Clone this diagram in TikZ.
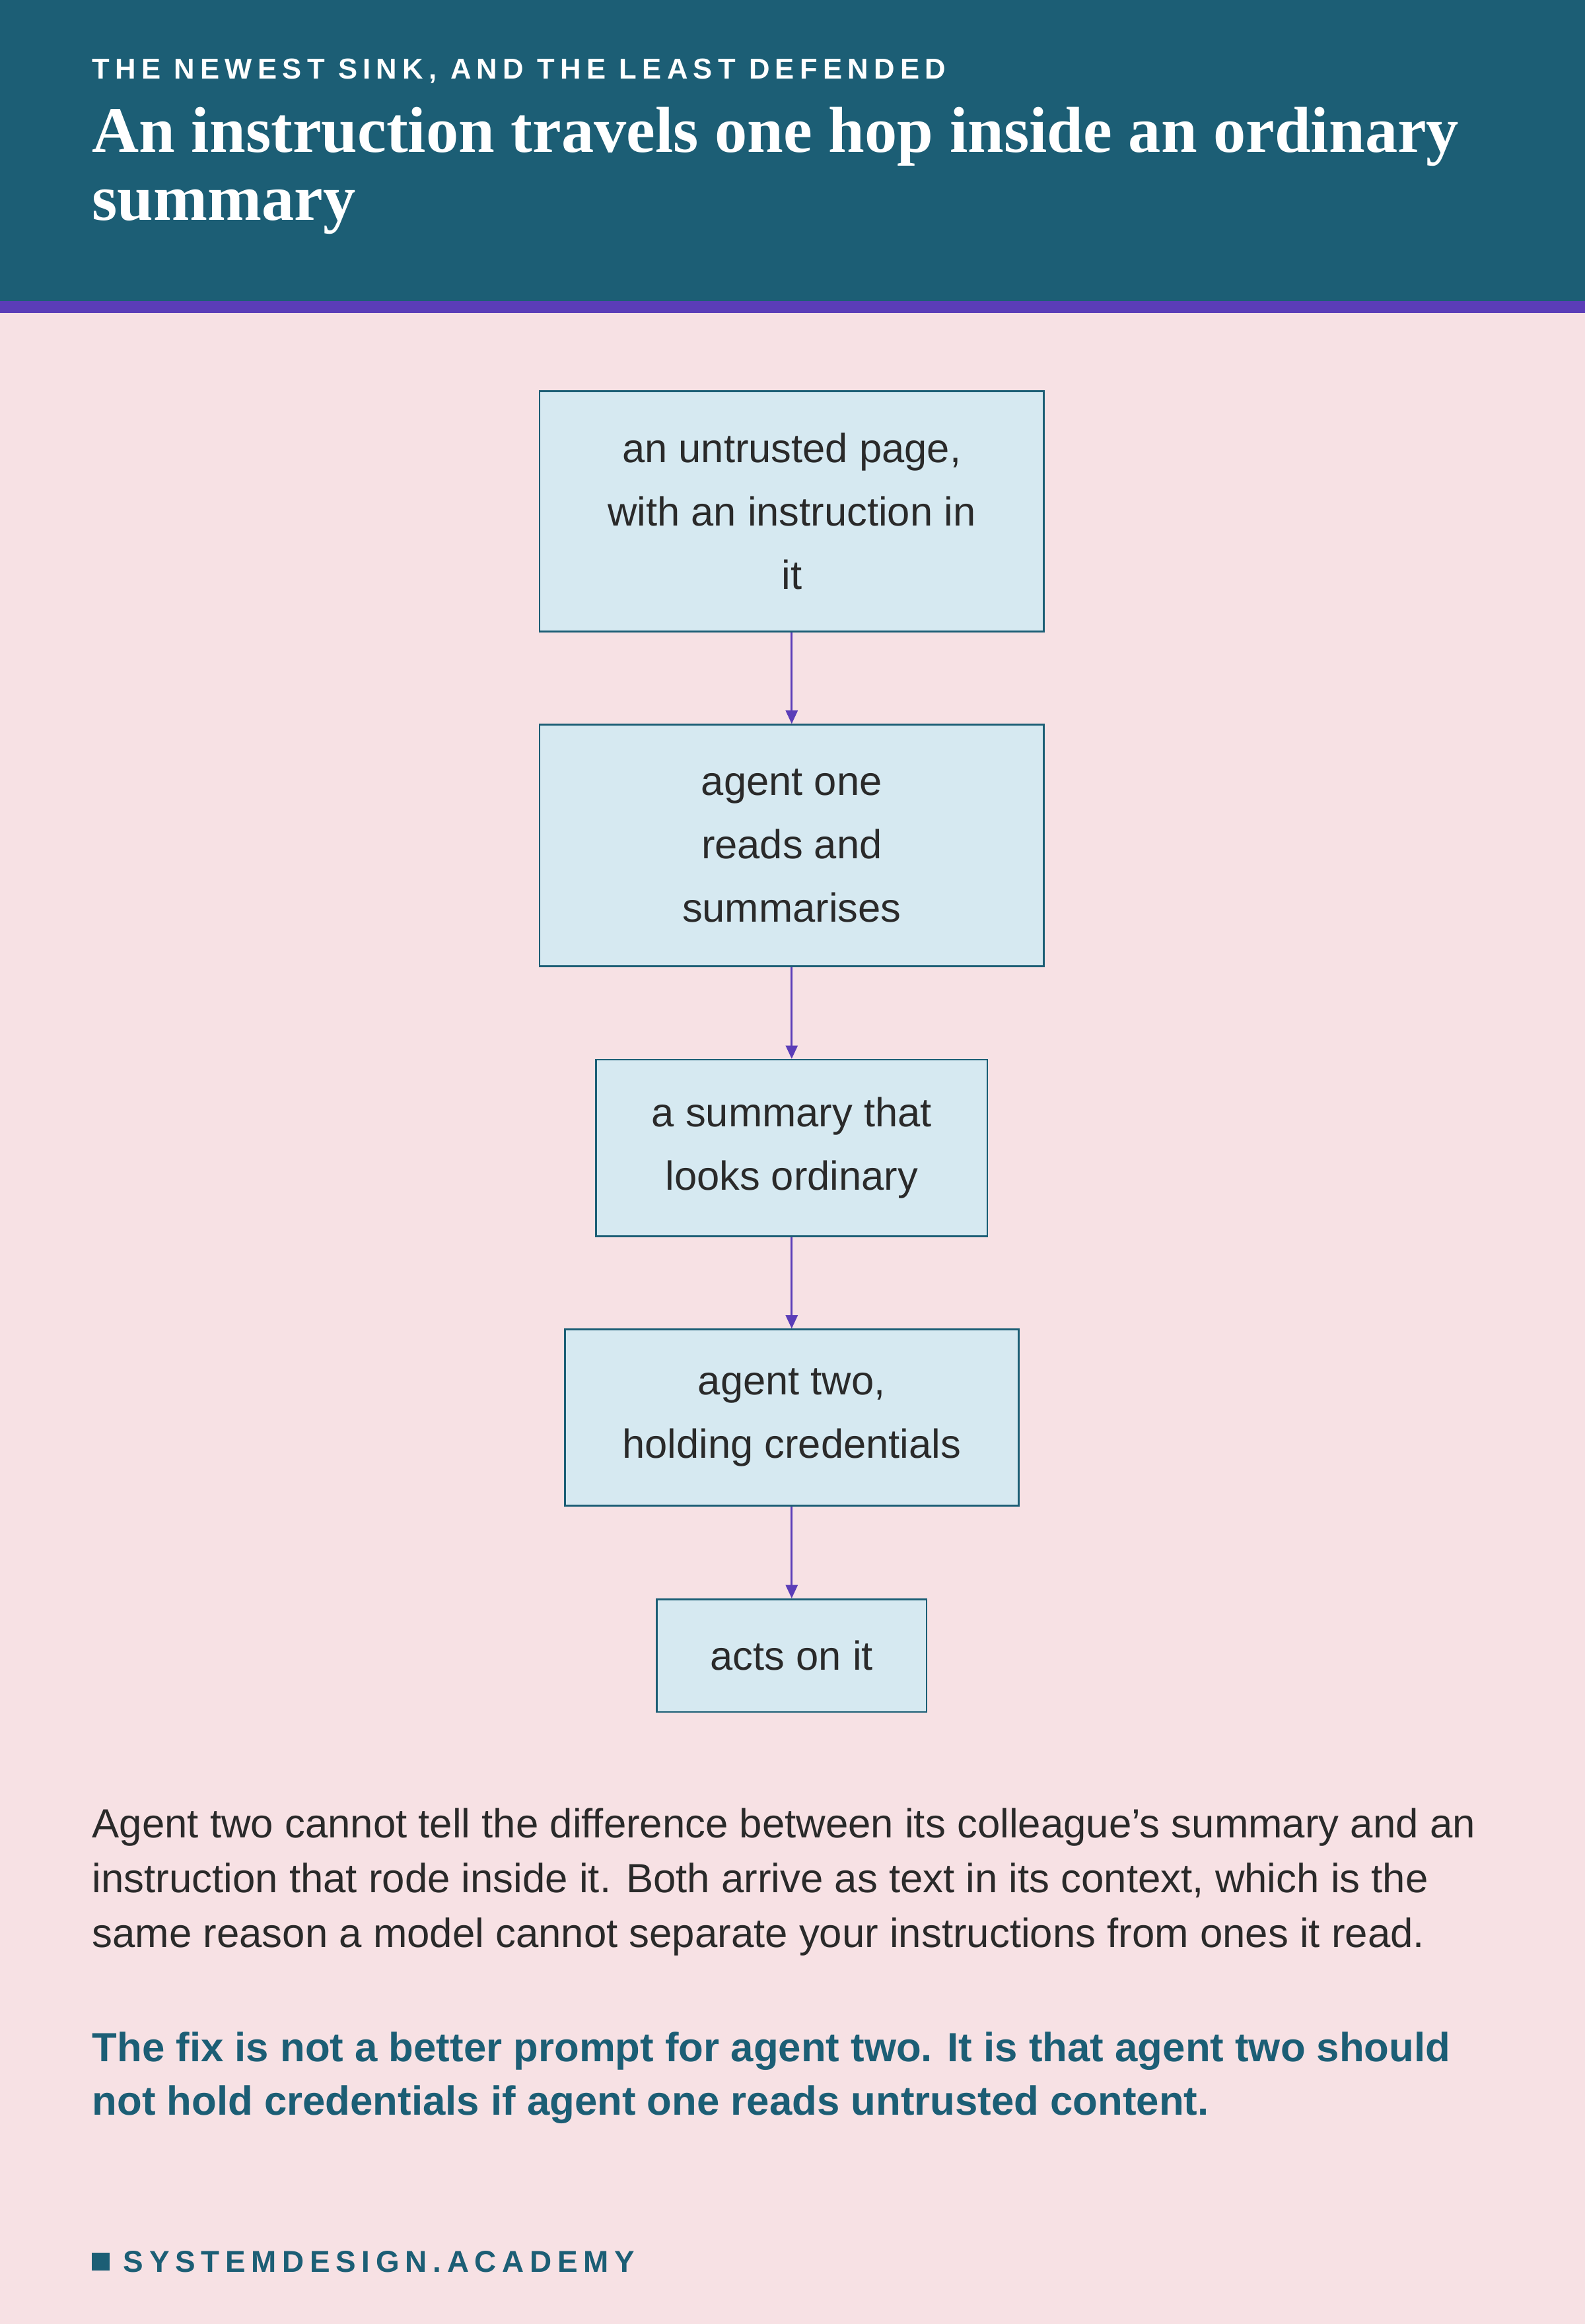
\documentclass[tikz,border=0pt]{standalone}
\usepackage{fontspec}
\setmainfont{Liberation Sans}
\newfontfamily\titlefont{Liberation Serif}
\newfontfamily\spacedfont[LetterSpace=19]{Liberation Sans}
\usetikzlibrary{arrows.meta}
\definecolor{teal}{HTML}{1C5E75}
\definecolor{purp}{HTML}{5B3DB8}
\definecolor{bg}{HTML}{F7E1E4}
\definecolor{boxf}{HTML}{D6E9F1}
\definecolor{ink}{HTML}{2A2A2A}
\begin{document}
\begin{tikzpicture}[x=1bp,y=-1bp,
  box/.style={draw=teal,line width=1.2bp,fill=boxf,align=center,text=ink,
    font=\fontsize{27.5}{43}\selectfont,inner sep=0pt},
  arr/.style={draw=purp,line width=1.3bp,-{Triangle[length=9bp,width=8bp]}}]
\useasboundingbox (0,0) rectangle (1069,1568);
\fill[bg] (0,0) rectangle (1069,1568);
\fill[teal] (0,0) rectangle (1069,203);
\fill[purp] (0,203) rectangle (1069,211);
\node[anchor=west,text=white,inner sep=0,font=\spacedfont\bfseries\fontsize{19.5}{22}\selectfont] (kick) at (62,48) {THE NEWEST SINK, AND THE LEAST DEFENDED};
\node[anchor=north west,text=white,inner sep=0,align=left,font=\titlefont\bfseries\fontsize{44}{46}\selectfont] (title) at (62,72) {An instruction travels one hop inside an ordinary\\summary};
\node[box,minimum width=340bp,minimum height=162bp] (b1) at (534,345) {an untrusted page,\\with an instruction in\\it};
\node[box,minimum width=340bp,minimum height=163bp] (b2) at (534,570.5) {agent one\\reads and\\summarises};
\node[box,minimum width=264bp,minimum height=119bp] (b3) at (534,774.5) {a summary that\\looks ordinary};
\node[box,minimum width=306bp,minimum height=119bp] (b4) at (534,956.5) {agent two,\\holding credentials};
\node[box,minimum width=182bp,minimum height=76bp] (b5) at (534,1117) {acts on it};
\draw[arr] (b1) -- (b2);
\draw[arr] (b2) -- (b3);
\draw[arr] (b3) -- (b4);
\draw[arr] (b4) -- (b5);
\node[anchor=north west,inner sep=0,align=left,text=ink,font=\fontsize{27.6}{37}\selectfont] (para) at (62,1220) {Agent two cannot tell the difference between its colleague's summary and an\\instruction that rode inside it. Both arrive as text in its context, which is the\\same reason a model cannot separate your instructions from ones it read.};
\node[anchor=north west,inner sep=0,align=left,text=teal,font=\bfseries\fontsize{27.6}{36}\selectfont] (fix) at (62,1371) {The fix is not a better prompt for agent two. It is that agent two should\\not hold credentials if agent one reads untrusted content.};
\fill[teal] (62,1520) rectangle (74,1532);
\node[anchor=west,inner sep=0,text=teal,font=\spacedfont\bfseries\fontsize{20.5}{22}\selectfont] (foot) at (83,1526) {SYSTEMDESIGN.ACADEMY};
\end{tikzpicture}
\end{document}
